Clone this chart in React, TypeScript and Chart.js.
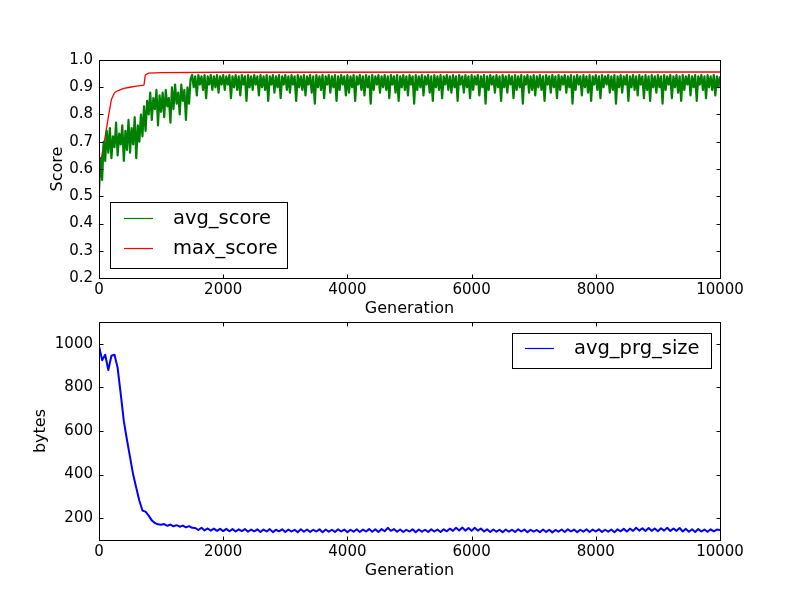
import { useEffect, useRef } from 'react';
import Chart from 'chart.js/auto';

const FONT = '"DejaVu Sans", "Liberation Sans", sans-serif';

const GEN_TICKS = [0, 2000, 4000, 6000, 8000, 10000];
const SCORE_TICKS = [0.2, 0.3, 0.4, 0.5, 0.6, 0.7, 0.8, 0.9, 1.0];
const BYTES_TICKS = [200, 400, 600, 800, 1000];

// avg_score, one value every 25 generations (0 .. 10000)
const AVG_SCORE_STEP = 25;
const AVG_SCORE = [
  0.52, 0.64, 0.56, 0.70, 0.63, 0.74, 0.66, 0.75, 0.64, 0.72, 0.68, 0.77, 0.65, 0.73, 0.69, 0.76, 0.63, 0.74, 0.67, 0.78,
  0.66, 0.75, 0.69, 0.79, 0.64, 0.76, 0.70, 0.80, 0.72, 0.83, 0.74, 0.85, 0.80, 0.88, 0.78, 0.86, 0.82, 0.89, 0.76, 0.87,
  0.81, 0.88, 0.79, 0.89, 0.83, 0.86, 0.77, 0.90, 0.82, 0.91, 0.84, 0.88, 0.80, 0.91, 0.85, 0.89, 0.78, 0.90, 0.84, 0.93,
  0.945, 0.90, 0.94, 0.87, 0.945, 0.91, 0.94, 0.89, 0.945, 0.86, 0.94, 0.91, 0.945, 0.89, 0.94, 0.90, 0.945, 0.88, 0.94, 0.91,
  0.945, 0.89, 0.94, 0.91, 0.945, 0.86, 0.94, 0.90, 0.945, 0.89, 0.94, 0.87, 0.945, 0.91, 0.94, 0.85, 0.945, 0.90, 0.94, 0.89,
  0.945, 0.91, 0.94, 0.87, 0.945, 0.90, 0.94, 0.89, 0.945, 0.85, 0.94, 0.91, 0.945, 0.88, 0.94, 0.90, 0.945, 0.86, 0.94, 0.91,
  0.945, 0.89, 0.94, 0.88, 0.945, 0.91, 0.94, 0.85, 0.945, 0.90, 0.94, 0.89, 0.945, 0.87, 0.94, 0.91, 0.945, 0.88, 0.94, 0.84,
  0.945, 0.90, 0.94, 0.89, 0.945, 0.86, 0.94, 0.91, 0.945, 0.88, 0.94, 0.90, 0.945, 0.85, 0.94, 0.89, 0.945, 0.91, 0.94, 0.87,
  0.945, 0.88, 0.94, 0.90, 0.945, 0.85, 0.94, 0.91, 0.945, 0.89, 0.94, 0.87, 0.945, 0.90, 0.94, 0.84, 0.945, 0.89, 0.94, 0.91,
  0.945, 0.88, 0.94, 0.90, 0.945, 0.89, 0.94, 0.86, 0.945, 0.91, 0.94, 0.88, 0.945, 0.85, 0.94, 0.90, 0.945, 0.89, 0.94, 0.87,
  0.945, 0.91, 0.94, 0.84, 0.945, 0.89, 0.94, 0.90, 0.945, 0.87, 0.94, 0.91, 0.945, 0.88, 0.94, 0.85, 0.945, 0.90, 0.94, 0.89,
  0.945, 0.86, 0.94, 0.91, 0.945, 0.89, 0.94, 0.88, 0.945, 0.90, 0.94, 0.85, 0.945, 0.91, 0.94, 0.88, 0.945, 0.90, 0.94, 0.86,
  0.945, 0.89, 0.94, 0.91, 0.945, 0.87, 0.94, 0.90, 0.945, 0.84, 0.94, 0.89, 0.945, 0.91, 0.94, 0.88, 0.945, 0.90, 0.94, 0.85,
  0.945, 0.90, 0.94, 0.88, 0.945, 0.91, 0.94, 0.86, 0.945, 0.89, 0.94, 0.90, 0.945, 0.84, 0.94, 0.91, 0.945, 0.88, 0.94, 0.89,
  0.945, 0.87, 0.94, 0.90, 0.945, 0.89, 0.94, 0.85, 0.945, 0.91, 0.94, 0.88, 0.945, 0.90, 0.94, 0.86, 0.945, 0.89, 0.94, 0.91,
  0.945, 0.88, 0.94, 0.90, 0.945, 0.84, 0.94, 0.89, 0.945, 0.91, 0.94, 0.87, 0.945, 0.90, 0.94, 0.88, 0.945, 0.85, 0.94, 0.91,
  0.945, 0.89, 0.94, 0.86, 0.945, 0.90, 0.94, 0.91, 0.945, 0.88, 0.94, 0.89, 0.945, 0.84, 0.94, 0.90, 0.945, 0.88, 0.94, 0.91,
  0.945, 0.85, 0.94, 0.90, 0.945, 0.89, 0.94, 0.87, 0.945, 0.91, 0.94, 0.86, 0.945, 0.89, 0.94, 0.85, 0.945, 0.90, 0.94, 0.88,
  0.945, 0.90, 0.94, 0.84, 0.945, 0.89, 0.94, 0.91, 0.945, 0.86, 0.94, 0.90, 0.945, 0.88, 0.94, 0.85, 0.945, 0.89, 0.94, 0.91,
  0.945, 0.87, 0.94, 0.90, 0.945, 0.85, 0.94, 0.91, 0.945, 0.89, 0.94, 0.86, 0.945, 0.90, 0.94, 0.89, 0.945, 0.87, 0.94, 0.90,
  0.94,
];

// max_score is a step-like curve, read at its corners
const MAX_SCORE_GEN = [0, 50, 100, 150, 200, 250, 300, 400, 500, 600, 700, 725, 745, 800, 1000, 2000, 10000];
const MAX_SCORE = [0.59, 0.655, 0.72, 0.79, 0.855, 0.88, 0.887, 0.896, 0.9, 0.904, 0.907, 0.909, 0.945, 0.952, 0.954, 0.955, 0.956];

// avg_prg_size, one value every 50 generations (0 .. 10000)
const PRG_SIZE_STEP = 50;
const AVG_PRG_SIZE = [
  990, 925, 950, 880, 945, 950, 890, 770, 645, 560,
  480, 400, 340, 280, 235, 230, 212, 190, 178, 172,
  170, 173, 165, 171, 163, 168, 161, 166, 158, 164,
  156, 155, 146, 156, 144, 153, 143, 152, 142, 151,
  141, 151, 140, 150, 139, 149, 141, 150, 138, 148,
  140, 149, 137, 148, 139, 150, 136, 147, 140, 149,
  137, 148, 139, 147, 136, 149, 138, 148, 137, 147,
  139, 149, 136, 148, 138, 147, 137, 149, 139, 148,
  136, 147, 138, 149, 137, 148, 139, 150, 138, 149,
  137, 150, 140, 156, 142, 150, 138, 148, 137, 147,
  139, 149, 136, 148, 138, 147, 137, 149, 139, 148,
  137, 149, 140, 152, 142, 156, 144, 157, 143, 155,
  142, 156, 143, 153, 139, 149, 137, 148, 138, 147,
  136, 148, 138, 147, 137, 149, 139, 148, 136, 147,
  138, 146, 136, 148, 137, 147, 135, 146, 138, 148,
  137, 149, 139, 148, 136, 147, 138, 149, 137, 148,
  139, 149, 137, 147, 138, 148, 136, 149, 140, 151,
  139, 152, 142, 156, 143, 154, 141, 155, 142, 153,
  140, 154, 143, 156, 141, 153, 142, 155, 139, 151,
  138, 149, 137, 150, 139, 148, 138, 149, 140, 148,
  146,
];

// matplotlib-like box with inward ticks on all four sides
const framePlugin = {
  id: 'mplFrame',
  afterDatasetsDraw(chart: any) {
    const { ctx, chartArea: a, scales } = chart;
    const L = Math.round(a.left) + 0.5;
    const R = Math.round(a.right) + 0.5;
    const T = Math.round(a.top) + 0.5;
    const B = Math.round(a.bottom) + 0.5;
    const len = 4;
    ctx.save();
    ctx.strokeStyle = '#000';
    ctx.lineWidth = 1;
    ctx.beginPath();
    scales.x.ticks.forEach((t: any) => {
      const px = Math.round(scales.x.getPixelForValue(t.value)) + 0.5;
      ctx.moveTo(px, B);
      ctx.lineTo(px, B - len);
      ctx.moveTo(px, T);
      ctx.lineTo(px, T + len);
    });
    scales.y.ticks.forEach((t: any) => {
      const py = Math.round(scales.y.getPixelForValue(t.value)) + 0.5;
      ctx.moveTo(L, py);
      ctx.lineTo(L + len, py);
      ctx.moveTo(R, py);
      ctx.lineTo(R - len, py);
    });
    ctx.stroke();
    ctx.strokeRect(L, T, R - L, B - T);
    ctx.restore();
  },
};

const legendPlugin = {
  id: 'mplLegend',
  afterDraw(chart: any, _args: any, opts: any) {
    if (!opts || !opts.box) return;
    const { ctx } = chart;
    const { box, rows, lineX0, lineX1, textX } = opts;
    ctx.save();
    ctx.fillStyle = '#fff';
    ctx.fillRect(box.left, box.top, box.width, box.height);
    ctx.strokeStyle = '#000';
    ctx.lineWidth = 1;
    ctx.strokeRect(box.left + 0.5, box.top + 0.5, box.width, box.height);
    ctx.font = `19.5px ${FONT}`;
    ctx.textBaseline = 'middle';
    ctx.textAlign = 'left';
    chart.data.datasets.forEach((ds: any, i: number) => {
      const y = rows[i];
      ctx.strokeStyle = ds.borderColor;
      ctx.lineWidth = 1.2;
      ctx.beginPath();
      ctx.moveTo(lineX0, y);
      ctx.lineTo(lineX1, y);
      ctx.stroke();
      ctx.fillStyle = '#000';
      ctx.fillText(ds.label, textX, y);
    });
    ctx.restore();
  },
};

function makeOptions(cfg: {
  yMin: number;
  yMax: number;
  yTicks: number[];
  yFormat: (v: number) => string;
  yTitle: string;
  yTitlePad: number;
  padding: { top: number; right: number; bottom: number; left: number };
  xAxisHeight: number;
  xTitlePad: number;
  legend: any;
}) {
  return {
    responsive: false,
    animation: false as const,
    events: [],
    layout: { padding: cfg.padding },
    plugins: {
      legend: { display: false },
      tooltip: { enabled: false },
      mplLegend: cfg.legend,
    },
    scales: {
      x: {
        type: 'linear' as const,
        min: 0,
        max: 10000,
        afterBuildTicks: (s: any) => {
          s.ticks = GEN_TICKS.map((v) => ({ value: v }));
        },
        afterFit: (s: any) => {
          s.height = cfg.xAxisHeight;
        },
        grid: { display: false, drawTicks: false },
        border: { display: false },
        ticks: {
          color: '#000',
          padding: 3,
          maxRotation: 0,
          autoSkip: false,
          font: { family: FONT, size: 15 },
          callback: (v: any) => String(v),
        },
        title: {
          display: true,
          text: 'Generation',
          color: '#000',
          font: { family: FONT, size: 16 },
          padding: { top: 0, bottom: cfg.xTitlePad },
        },
      },
      y: {
        type: 'linear' as const,
        min: cfg.yMin,
        max: cfg.yMax,
        afterBuildTicks: (s: any) => {
          s.ticks = cfg.yTicks.map((v) => ({ value: v }));
        },
        afterFit: (s: any) => {
          s.width = 99;
        },
        grid: { display: false, drawTicks: false },
        border: { display: false },
        ticks: {
          color: '#000',
          padding: 6,
          autoSkip: false,
          font: { family: FONT, size: 15 },
          callback: (v: any) => cfg.yFormat(Number(v)),
        },
        title: {
          display: true,
          text: cfg.yTitle,
          color: '#000',
          font: { family: FONT, size: 16 },
          padding: { top: cfg.yTitlePad, bottom: 0 },
        },
      },
    },
  };
}

export default function App() {
  const topRef = useRef<HTMLCanvasElement | null>(null);
  const bottomRef = useRef<HTMLCanvasElement | null>(null);

  useEffect(() => {
    if (!topRef.current || !bottomRef.current) return;

    const top = new Chart(topRef.current, {
      type: 'line',
      data: {
        datasets: [
          {
            label: 'avg_score',
            data: AVG_SCORE.map((v, i) => ({ x: i * AVG_SCORE_STEP, y: v })),
            borderColor: '#008000',
            borderWidth: 2.2,
            borderJoinStyle: 'round',
            pointRadius: 0,
            tension: 0,
          },
          {
            label: 'max_score',
            data: MAX_SCORE.map((v, i) => ({ x: MAX_SCORE_GEN[i], y: v })),
            borderColor: '#ff0000',
            borderWidth: 1.3,
            borderJoinStyle: 'round',
            pointRadius: 0,
            tension: 0,
          },
        ],
      },
      options: makeOptions({
        yMin: 0.2,
        yMax: 1.0,
        yTicks: SCORE_TICKS,
        yFormat: (v) => v.toFixed(1),
        yTitle: 'Score',
        yTitlePad: 48,
        padding: { top: 60, right: 80, bottom: 280, left: 0 },
        xAxisHeight: 42,
        xTitlePad: 2,
        legend: {
          box: { left: 110, top: 202, width: 177, height: 66 },
          rows: [218.5, 248.5],
          lineX0: 124,
          lineX1: 153,
          textX: 173,
        },
      }) as any,
      plugins: [framePlugin, legendPlugin],
    });

    const bottom = new Chart(bottomRef.current, {
      type: 'line',
      data: {
        datasets: [
          {
            label: 'avg_prg_size',
            data: AVG_PRG_SIZE.map((v, i) => ({ x: i * PRG_SIZE_STEP, y: v })),
            borderColor: '#0000ff',
            borderWidth: 2,
            borderJoinStyle: 'round',
            pointRadius: 0,
            tension: 0,
          },
        ],
      },
      options: makeOptions({
        yMin: 100,
        yMax: 1100,
        yTicks: BYTES_TICKS,
        yFormat: (v) => String(v),
        yTitle: 'bytes',
        yTitlePad: 31,
        padding: { top: 322, right: 80, bottom: 0, left: 0 },
        xAxisHeight: 60,
        xTitlePad: 20,
        legend: {
          box: { left: 512, top: 333, width: 199, height: 35 },
          rows: [348.5],
          lineX0: 525,
          lineX1: 554,
          textX: 574,
        },
      }) as any,
      plugins: [framePlugin, legendPlugin],
    });

    return () => {
      top.destroy();
      bottom.destroy();
    };
  }, []);

  const canvasStyle = { position: 'absolute' as const, left: 0, top: 0, width: 800, height: 600 };

  return (
    <div style={{ position: 'fixed', left: 0, top: 0, width: 800, height: 600, background: '#fff' }}>
      <canvas ref={topRef} width={800} height={600} style={canvasStyle} />
      <canvas ref={bottomRef} width={800} height={600} style={canvasStyle} />
    </div>
  );
}
